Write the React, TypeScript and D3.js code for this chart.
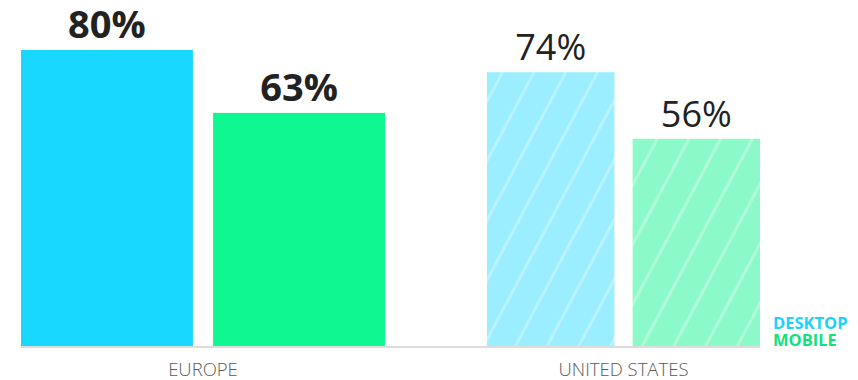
import React from "react";
import * as d3 from "d3";

const regions = ["EUROPE", "UNITED STATES"];
const series = ["DESKTOP", "MOBILE"];
const desktopValues = [80, 74];
const mobileValues = [63, 56];

const W = 858;
const H = 380;
const solid = { DESKTOP: "#19d8ff", MOBILE: "#0ef790" };
const light = { DESKTOP: "#9aeeff", MOBILE: "#8cf9c9" };
const legendColor = { DESKTOP: "#1ad2fb", MOBILE: "#14e07e" };

export default function App() {
  const y = d3.scaleLinear().domain([0, 80]).range([346, 50]);
  // each region group has its own extent in the reference
  const groupExtents: [number, number][] = [
    [21, 385],
    [487, 760],
  ];
  const innerPad = [0.105, 0.125];
  const values = [desktopValues, mobileValues];

  return (
    <svg width={W} height={H} style={{ position: "absolute", left: 0, top: 0 }}>
      <defs>
        {series.map((s) => (
          <pattern
            key={s}
            id={`hatch-${s}`}
            patternUnits="userSpaceOnUse"
            width={28}
            height={28}
            patternTransform="rotate(28)"
          >
            <rect width={28} height={28} fill={(light as any)[s]} />
            <rect x={0} width={3} height={28} fill="#ffffff" fillOpacity={0.3} />
          </pattern>
        ))}
      </defs>
      <rect width={W} height={H} fill="#fff" />
      <line x1={21} x2={760} y1={347} y2={347} stroke="#dcdcdc" strokeWidth={2} />
      {regions.map((r, gi) => {
        const x = d3
          .scaleBand<string>()
          .domain(series)
          .range(groupExtents[gi])
          .paddingInner(innerPad[gi])
          .paddingOuter(0);
        const cx = (groupExtents[gi][0] + groupExtents[gi][1]) / 2;
        return (
          <g key={r}>
            {series.map((s, si) => {
              const v = values[si][gi];
              const bx = x(s)!;
              const bw = x.bandwidth();
              return (
                <g key={s}>
                  <rect
                    x={bx}
                    y={y(v)}
                    width={bw}
                    height={y(0) - y(v)}
                    fill={gi === 0 ? (solid as any)[s] : `url(#hatch-${s})`}
                  />
                  <text
                    x={bx + bw / 2}
                    y={y(v) - 12}
                    textAnchor="middle"
                    fontFamily="'Open Sans', sans-serif"
                    fontWeight={gi === 0 ? 700 : 400}
                    fontSize={gi === 0 ? 38 : 36}
                    fill="#222"
                  >
                    {v}%
                  </text>
                </g>
              );
            })}
            <text
              x={cx}
              y={376}
              textAnchor="middle"
              fontFamily="'Open Sans', sans-serif"
              fontWeight={300}
              fontSize={18.5}
              fill="#5a5a5a"
            >
              {r}
            </text>
          </g>
        );
      })}
      {series.map((s, i) => (
        <text
          key={s}
          x={773}
          y={329 + i * 17}
          fontFamily="'Open Sans', sans-serif"
          fontWeight={700}
          fontSize={16.5}
          fill={(legendColor as any)[s]}
        >
          {s}
        </text>
      ))}
    </svg>
  );
}
